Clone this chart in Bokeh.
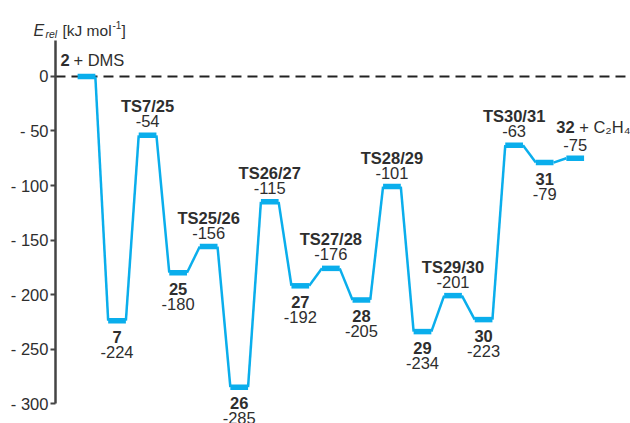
from bokeh.plotting import figure
from bokeh.models import ColumnDataSource, Label, FixedTicker, Range1d
from bokeh.embed import file_html
from bokeh.resources import INLINE
from bokeh.core.properties import value

# Reaction path: species names and relative energies (kJ/mol)
species = ["2", "7", "TS7/25", "25", "TS25/26", "26", "TS26/27", "27",
           "TS27/28", "28", "TS28/29", "29", "TS29/30", "30", "TS30/31", "31", "32"]
energies = [0, -224, -54, -180, -156, -285, -115, -192,
            -176, -205, -101, -234, -201, -223, -63, -79, -75]
start_partner = "+ DMS"
end_partner = "+ C\u2082H\u2084"

y_ticks = [0, -50, -100, -150, -200, -250, -300]
y_tick_labels = ["0", "- 50", "- 100", "- 150", "- 200", "- 250", "- 300"]

BLUE = "#0aaeec"
INK = "#2e2e2e"
AXIS = "#444444"
FONT = "Liberation Sans"
FS = "16.5px"
HALF = 0.29       # half width of an energy level, in step units
X_START, X_END = -2.815, 17.81
AXIS_X = -1.015   # where the energy axis sits along the path

pos = list(range(len(energies)))

p = figure(width=630, height=423, output_backend="svg", toolbar_location=None,
           x_range=Range1d(X_START, X_END), y_range=Range1d(-318.3, 69.7),
           min_border_left=0, min_border_right=0, min_border_top=0,
           min_border_bottom=0, x_axis_location=None)
p.outline_line_color = None
p.grid.visible = False
p.background_fill_color = "white"
p.border_fill_color = "white"

# y axis, pinned inside the frame
ax = p.yaxis[0]
ax.fixed_location = AXIS_X
ax.ticker = FixedTicker(ticks=y_ticks)
ax.major_label_overrides = {t: s for t, s in zip(y_ticks, y_tick_labels)}
ax.bounds = (-300, 33)
ax.axis_line_color = AXIS
ax.axis_line_width = 2.5
ax.major_tick_line_color = AXIS
ax.major_tick_line_width = 2
ax.major_tick_out = 5
ax.major_tick_in = 0
ax.minor_tick_line_color = None
ax.major_label_standoff = 2
ax.major_label_text_font = FONT
ax.major_label_text_font_size = FS
ax.major_label_text_color = INK

# zero reference line, from the axis to the right edge
p.segment(x0=[AXIS_X], y0=[0], x1=[X_END], y1=[0], line_color="#222222",
          line_width=2, line_dash="10 6")

# connectors between consecutive levels
conn = ColumnDataSource(dict(
    x0=[i + HALF for i in pos[:-1]], y0=energies[:-1],
    x1=[i + 1 - HALF for i in pos[:-1]], y1=energies[1:]))
p.segment("x0", "y0", "x1", "y1", source=conn, line_color=BLUE, line_width=2.5)

# energy levels
lev = ColumnDataSource(dict(x0=[i - HALF for i in pos], x1=[i + HALF for i in pos],
                            y=energies))
p.segment("x0", "y", "x1", "y", source=lev, line_color=BLUE, line_width=5.5,
          line_cap="butt")

# labels for intermediate species
names, vals, xs, ys, name_off, val_off = [], [], [], [], [], []
for i in pos[1:-1]:
    ts = species[i].startswith("TS")
    names.append(species[i])
    vals.append(str(energies[i]))
    xs.append(i)
    ys.append(energies[i])
    name_off.append(-29 if ts else 16)
    val_off.append(-14 if ts else 31)
lab = ColumnDataSource(dict(x=xs, y=ys, name=names, val=vals,
                            noff=name_off, voff=val_off))
common = dict(text_font=value(FONT), text_font_size=FS, text_color=INK,
              text_align="center", text_baseline="middle")
p.text("x", "y", text="name", y_offset="noff", source=lab,
       text_font_style="bold", **common)
p.text("x", "y", text="val", y_offset="voff", source=lab, **common)

# start: 2 + DMS
side = dict(text_font=value(FONT), text_font_size=FS, text_color=INK,
            text_align="left", text_baseline="middle")
p.text(x=[pos[0]], y=[energies[0]], text=[species[0]], x_offset=-26, y_offset=-16,
       text_font_style="bold", **side)
p.text(x=[pos[0]], y=[energies[0]], text=[start_partner], x_offset=-13, y_offset=-16,
       **side)

# end: 32 + C2H4
p.text(x=[pos[-1]], y=[energies[-1]], text=[species[-1]], x_offset=-19, y_offset=-31,
       text_font_style="bold", **side)
p.text(x=[pos[-1]], y=[energies[-1]], text=[end_partner], x_offset=4, y_offset=-31,
       **side)
p.text(x=[pos[-1]], y=[energies[-1]], text=[str(energies[-1])], y_offset=-13,
       **common)

# axis title: E_rel [kJ mol^-1]
def title_part(text, x, y, size, style="normal"):
    p.add_layout(Label(x=x, y=y, x_units="screen", y_units="screen", text=text,
                       text_font=FONT, text_font_size=size, text_font_style=style,
                       text_color=INK, text_baseline="alphabetic"))

title_part("E", 33, 393, "16px", "italic")
title_part("rel", 45, 390, "10.5px", "italic")
title_part("[kJ mol", 62, 393, "15.5px")
title_part("-1", 112, 399, "10px")
title_part("]", 121, 393, "15.5px")

open("out.html", "w").write(file_html(p, INLINE))
